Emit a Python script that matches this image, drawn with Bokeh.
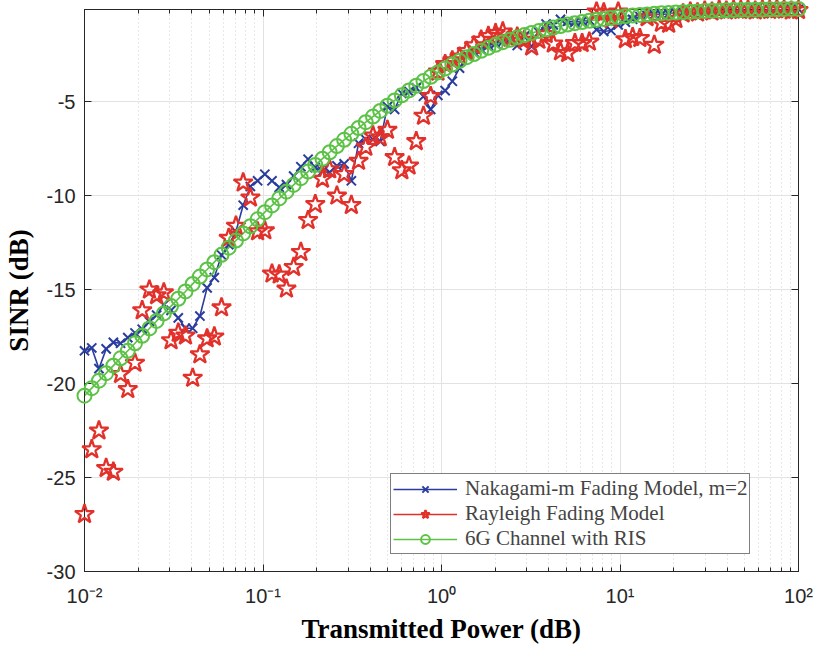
from bokeh.plotting import figure
from bokeh.models import (Range1d, LogAxis, LinearAxis, FixedTicker, LogTicker,
                          CustomJSTickFormatter, Legend, LegendItem)
from bokeh.embed import file_html
from bokeh.resources import INLINE

# ---------------- data ----------------
x_power = [0.01, 0.01098, 0.01205, 0.01322, 0.01451, 0.01592, 0.01748, 0.01918, 0.02105, 0.02310,
           0.02535, 0.02783, 0.03054, 0.03352, 0.03678, 0.04037, 0.04431, 0.04863, 0.05337, 0.05857,
           0.06428, 0.07055, 0.07743, 0.08498, 0.09326, 0.1024, 0.1123, 0.1233, 0.1353, 0.1485,
           0.1630, 0.1789, 0.1963, 0.2154, 0.2364, 0.2595, 0.2848, 0.3126, 0.3430, 0.3765,
           0.4132, 0.4535, 0.4977, 0.5462, 0.5995, 0.6579, 0.7221, 0.7925, 0.8697, 0.9545,
           1.048, 1.150, 1.262, 1.385, 1.520, 1.668, 1.831, 2.009, 2.205, 2.420,
           2.656, 2.915, 3.199, 3.511, 3.854, 4.229, 4.642, 5.094, 5.591, 6.136,
           6.734, 7.391, 8.111, 8.902, 9.770, 10.72, 11.77, 12.92, 14.18, 15.56,
           17.07, 18.74, 20.57, 22.57, 24.77, 27.19, 29.84, 32.75, 35.94, 39.44,
           43.29, 47.51, 52.14, 57.22, 62.80, 68.93, 75.65, 83.02, 91.12, 100.0]

nakagami = [-18.25, -18.1, -19.2, -18.15, -17.8, -17.85, -17.55, -17.3, -17.1, -16.7,
            -16.35, -15.8, -16.1, -16.5, -17.05, -17.05, -16.4, -14.9, -14.35, -13.15,
            -12.6, -11.9, -10.5, -9.5, -9.2, -8.85, -9.2, -9.55, -9.4, -8.95,
            -8.45, -8.05, -8.5, -8.7, -8.75, -8.4, -8.3, -9.2, -7.2, -7.0,
            -7.0, -7.1, -5.25, -5.4, -4.55, -4.45, -4.25, -4.7, -5.4, -4.65,
            -4.4, -3.9, -3.2, -2.5, -2.35, -2.2, -2.0, -1.9, -1.8, -1.65,
            -2.0, -1.5, -2.05, -1.3, -0.85, -0.9, -0.6, -0.7, -0.75, -0.7,
            -0.65, -1.15, -1.25, -1.2, -0.9, -0.75, -0.6, -0.45, -0.4, -0.35,
            -0.35, -0.3, -0.25, -0.25, -0.2, -0.2, -0.18, -0.15, -0.15, -0.12,
            -0.12, -0.1, -0.1, -0.1, -0.09, -0.08, -0.08, -0.07, -0.06, -0.06]

rayleigh = [-26.95, -23.5, -22.5, -24.5, -24.7, -19.5, -20.3, -18.9, -16.1, -15.0,
            -15.3, -15.15, -17.7, -17.3, -17.45, -19.7, -18.45, -17.6, -17.5, -15.95,
            -12.25, -11.6, -9.3, -10.1, -11.9, -11.85, -14.15, -14.2, -14.95, -13.8,
            -13.0, -11.3, -10.45, -9.1, -8.6, -10.0, -8.85, -10.5, -8.15, -7.4,
            -6.8, -6.9, -6.5, -7.95, -8.65, -8.4, -7.1, -5.75, -4.7, -3.4,
            -3.0, -2.8, -2.6, -2.3, -2.0, -1.7, -1.5, -1.35, -1.26, -1.6,
            -1.53, -1.7, -2.06, -1.7, -1.4, -1.9, -2.32, -2.41, -1.88, -1.88,
            -1.8, -0.2, -0.25, -0.6, -0.2, -1.67, -1.56, -1.61, -0.5, -1.97,
            -0.8, -0.85, -0.6, -0.3, -0.2, -0.25, -0.15, -0.2, -0.1, -0.15,
            -0.1, -0.12, -0.1, -0.15, -0.1, -0.12, -0.08, -0.1, -0.15, -0.12]

ris_6g = [-20.64, -20.24, -19.84, -19.44, -19.04, -18.65, -18.25, -17.85, -17.45, -17.06,
          -16.66, -16.26, -15.87, -15.48, -15.09, -14.69, -14.30, -13.92, -13.53, -13.14,
          -12.76, -12.38, -12.00, -11.62, -11.25, -10.87, -10.51, -10.14, -9.78, -9.42,
          -9.06, -8.71, -8.36, -8.02, -7.68, -7.35, -7.02, -6.70, -6.39, -6.08,
          -5.78, -5.48, -5.20, -4.92, -4.65, -4.39, -4.14, -3.89, -3.66, -3.43,
          -3.22, -3.01, -2.81, -2.62, -2.45, -2.28, -2.12, -1.96, -1.82, -1.69,
          -1.56, -1.44, -1.33, -1.23, -1.13, -1.04, -0.96, -0.88, -0.81, -0.75,
          -0.68, -0.63, -0.58, -0.53, -0.48, -0.44, -0.40, -0.37, -0.34, -0.31,
          -0.28, -0.26, -0.24, -0.22, -0.20, -0.18, -0.16, -0.15, -0.14, -0.12,
          -0.11, -0.10, -0.09, -0.09, -0.08, -0.07, -0.07, -0.06, -0.05, -0.05]

y_ticks = [-30, -25, -20, -15, -10, -5]
labels = ["Nakagami-m Fading Model, m=2", "Rayleigh Fading Model", "6G Channel with RIS"]

BLUE = "#2a3d9e"
RED = "#e2302a"
GREEN = "#5cc246"
AX = "#262626"

# ---------------- figure ----------------
p = figure(width=816, height=646, x_axis_type="log",
           x_range=Range1d(0.01, 100), y_range=Range1d(-30, -0.08),
           output_backend="svg", toolbar_location=None,
           min_border_left=80, min_border_right=18, min_border_top=9, min_border_bottom=73)

p.background_fill_color = "white"
p.border_fill_color = "white"
p.outline_line_color = AX
p.outline_line_width = 1

sup_code = """
const sup = {'-':'\u207b','0':'\u2070','1':'\u00b9','2':'\u00b2','3':'\u00b3','4':'\u2074',
             '5':'\u2075','6':'\u2076','7':'\u2077','8':'\u2078','9':'\u2079'};
const e = Math.round(Math.log10(tick));
return '10' + String(e).split('').map(c => sup[c]).join('');
"""
blank_code = "return ' ';"

xt = LogTicker(num_minor_ticks=10)
yt = FixedTicker(ticks=y_ticks, minor_ticks=[])

p.xaxis.ticker = xt
p.xaxis.formatter = CustomJSTickFormatter(code=sup_code)
p.yaxis.ticker = yt
p.yaxis.formatter = CustomJSTickFormatter(code="return tick.toFixed(0);")

for ax in (p.xaxis[0], p.yaxis[0]):
    ax.axis_line_color = AX
    ax.major_tick_line_color = AX
    ax.minor_tick_line_color = AX
    ax.major_tick_in = 7
    ax.major_tick_out = 0
    ax.minor_tick_in = 4
    ax.minor_tick_out = 0
    ax.major_label_text_font = "Liberation Sans"
    ax.major_label_text_font_size = "20px"
    ax.major_label_text_color = AX
    ax.axis_label_text_font = "Liberation Serif"
    ax.axis_label_text_font_style = "bold"
    ax.axis_label_text_font_size = "27px"
    ax.axis_label_text_color = "black"

p.yaxis.minor_tick_line_color = None
p.xaxis.axis_label = "Transmitted Power (dB)"
p.yaxis.axis_label = "SINR (dB)"
p.xaxis.major_label_standoff = 13
p.xaxis.axis_label_standoff = 4
p.yaxis.major_label_standoff = 9
p.yaxis.axis_label_standoff = 10

# mirrored box axes (ticks only)
top = LogAxis(ticker=LogTicker(num_minor_ticks=10),
              formatter=CustomJSTickFormatter(code=blank_code),
              major_label_text_font_size="1px",
              axis_line_color=AX, major_tick_line_color=AX, minor_tick_line_color=AX,
              major_tick_in=7, major_tick_out=0, minor_tick_in=4, minor_tick_out=0,
              major_label_standoff=0)
right = LinearAxis(ticker=FixedTicker(ticks=y_ticks, minor_ticks=[]),
                   formatter=CustomJSTickFormatter(code=blank_code),
                   major_label_text_font_size="1px",
                   axis_line_color=AX, major_tick_line_color=AX, minor_tick_line_color=None,
                   major_tick_in=7, major_tick_out=0, major_label_standoff=0)
p.add_layout(top, "above")
p.add_layout(right, "right")

# grids
p.xgrid.grid_line_color = "#e2e2e2"
p.xgrid.grid_line_width = 1
p.xgrid.minor_grid_line_color = "#d0d0d0"
p.xgrid.minor_grid_line_dash = "1 3"
p.ygrid.ticker = yt
p.ygrid.grid_line_color = "#e2e2e2"

# ---------------- series ----------------
b_line = p.line(x_power, nakagami, line_color=BLUE, line_width=1.6)
b_mark = p.scatter(x_power, nakagami, marker="x", size=13, line_color=BLUE, line_width=2.0,
                   level="overlay")

r_mark = p.scatter(x_power, rayleigh, marker="star", size=20, line_color=RED,
                   fill_alpha=0, line_width=2.3, level="overlay")
r_leg = p.line(x_power[:1], rayleigh[:1], line_color=RED, line_width=1.6)

g_line = p.line(x_power, ris_6g, line_color=GREEN, line_width=1.6)
g_mark = p.scatter(x_power, ris_6g, marker="circle", size=14, line_color=GREEN,
                   fill_alpha=0, line_width=2.0, level="overlay")

legend = Legend(items=[LegendItem(label=labels[0], renderers=[b_line, b_mark]),
                       LegendItem(label=labels[1], renderers=[r_leg, r_mark]),
                       LegendItem(label=labels[2], renderers=[g_line, g_mark])],
                location=(306, 17))
legend.border_line_color = "black"
legend.border_line_width = 1
legend.background_fill_color = "white"
legend.background_fill_alpha = 1
legend.label_text_font = "Liberation Serif"
legend.label_text_font_size = "21px"
legend.glyph_width = 64
legend.glyph_height = 22
legend.label_height = 22
legend.label_standoff = 8
legend.spacing = 0
legend.padding = 2
legend.margin = 0
p.add_layout(legend)

open("out.html", "w").write(file_html(p, INLINE))
